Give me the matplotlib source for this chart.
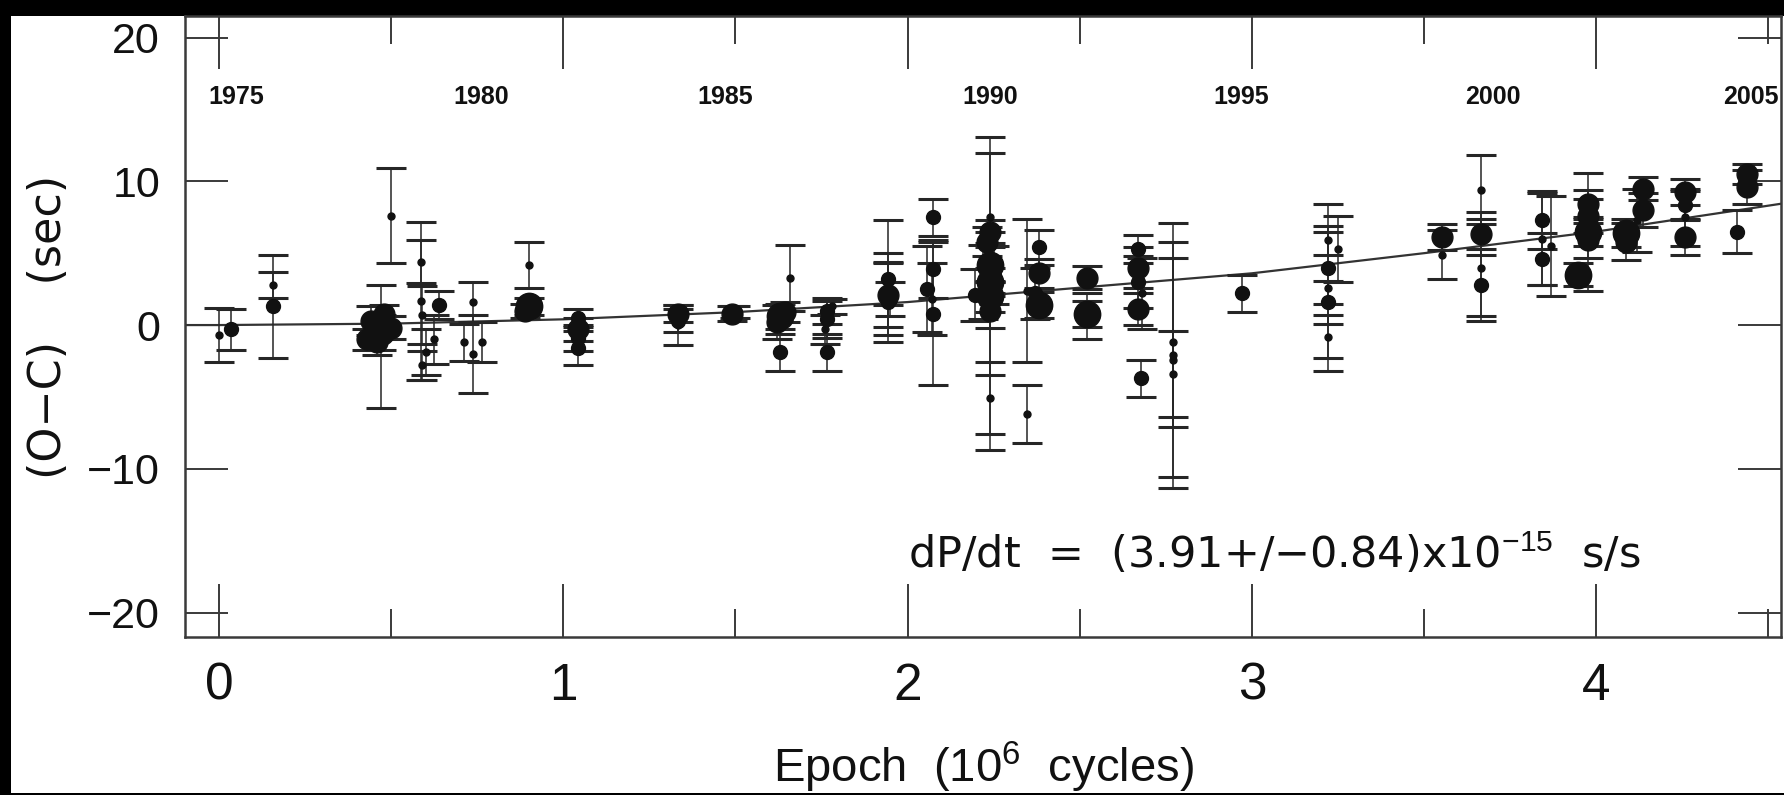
import matplotlib
matplotlib.use("Agg")
import matplotlib.pyplot as plt
from matplotlib.patches import Rectangle
from matplotlib.ticker import MultipleLocator

plt.rcParams.update({
    "font.family": ["Liberation Sans", "DejaVu Sans"],
    "mathtext.fontset": "custom",
    "mathtext.rm": "Liberation Sans",
    "mathtext.it": "Liberation Sans:italic",
    "mathtext.bf": "Liberation Sans:bold",
    "mathtext.sf": "Liberation Sans",
})

INK, AXC = "#111111", "#3a3a3a"

# O-C timings: epoch (10^6 cycles), O-C (s), error (s), dot size class
epoch = [0.00, 0.035, 0.156, 0.156,
         0.44, 0.47, 0.46, 0.50, 0.43, 0.48, 0.47, 0.499,
         0.587, 0.587, 0.59, 0.59, 0.60, 0.64, 0.625, 0.737, 0.71, 0.765, 0.737,
         0.90, 0.90, 0.89,
         1.043, 1.043, 1.043, 1.043,
         1.333, 1.333, 1.333,
         1.49, 1.50,
         1.63, 1.62, 1.645, 1.63, 1.658,
         1.765, 1.765, 1.76, 1.765, 1.78,
         1.942, 1.942, 1.942, 1.942, 1.95,
         2.055, 2.075, 2.075, 2.075, 2.07,
         2.24, 2.24, 2.23, 2.24, 2.24, 2.24, 2.24, 2.25, 2.24, 2.24, 2.24, 2.196, 2.22,
         2.346, 2.383, 2.383, 2.383, 2.37, 2.346,
         2.52, 2.52, 2.52,
         2.67, 2.67, 2.67, 2.67, 2.68, 2.678,
         2.77, 2.77, 2.77, 2.77,
         2.972,
         3.222, 3.222, 3.222, 3.222, 3.222, 3.25,
         3.551, 3.551,
         3.665, 3.665, 3.665, 3.665,
         3.842, 3.842, 3.842, 3.87,
         3.948, 3.977, 3.977, 3.977, 3.977, 3.977,
         4.088, 4.088, 4.136, 4.136, 4.12,
         4.258, 4.258, 4.258, 4.258,
         4.437, 4.437, 4.408]
oc = [-0.7, -0.3, 1.3, 2.8,
      0.3, -0.5, -1.2, -0.2, -1.0, 0.8, -1.5, 7.6,
      1.7, 4.4, 0.7, -2.8, -1.9, 1.4, -1.0, 1.6, -1.2, -1.2, -2.0,
      4.2, 1.3, 1.0,
      0.5, -0.3, -0.9, -1.6,
      0.8, 0.3, 0.0,
      0.8, 0.9,
      0.6, 0.2, 0.9, -1.9, 3.3,
      1.0, 0.4, -0.3, -1.9, 1.3,
      2.1, 3.2, 1.6, 3.3, 1.8,
      2.5, 7.5, 3.9, 0.8, 1.8,
      2.2, 6.5, 5.8, 4.2, 3.0, 2.0, 1.0, 3.5, -5.1, 7.5, 1.5, 2.1, 3.0,
      2.4, 5.4, 3.6, 1.4, 2.2, -6.2,
      3.3, 0.8, 0.6,
      5.3, 4.0, 3.0, 1.1, 2.2, -3.7,
      -2.1, -2.4, -1.2, -3.4,
      2.2,
      2.6, 5.9, 4.0, 1.6, -0.8, 5.3,
      6.1, 4.9,
      6.35, 9.4, 2.8, 4.0,
      7.3, 6.0, 4.6, 5.5,
      3.5, 8.4, 7.6, 6.5, 5.9, 6.5,
      6.4, 5.8, 9.5, 8.0, 7.3,
      9.25, 8.35, 6.1, 7.5,
      10.5, 9.6, 6.5]
err = [1.9, 1.4, 3.6, 0.9,
       1.0, 1.2, 0.9, 0.8, 0.7, 0.6, 4.3, 3.3,
       5.5, 1.5, 2.0, 1.0, 1.6, 1.0, 1.7, 1.4, 1.3, 1.4, 2.7,
       1.6, 0.6, 0.5,
       0.6, 0.8, 0.9, 1.2,
       0.6, 0.8, 1.4,
       0.5, 0.4,
       0.9, 1.2, 0.7, 1.3, 2.3,
       0.9, 1.3, 1.0, 1.3, 0.5,
       2.2, 1.8, 2.8, 4.0, 1.2,
       3.0, 1.3, 2.0, 5.0, 2.5,
       10.9, 0.8, 1.0, 1.2, 1.0, 1.1, 1.2, 2.0, 2.5, 4.5, 5.0, 1.8, 2.6,
       5.0, 1.2, 1.0, 0.9, 1.8, 2.0,
       0.8, 0.9, 1.6,
       1.0, 1.4, 1.8, 1.1, 2.5, 1.3,
       9.2, 8.2, 5.9, 3.0,
       1.3,
       5.8, 1.0, 2.5, 1.5, 1.5, 2.3,
       0.9, 1.7,
       1.5, 2.4, 2.5, 3.4,
       2.0, 3.2, 1.8, 3.5,
       0.8, 1.0, 1.2, 1.0, 1.2, 4.1,
       1.0, 1.3, 0.8, 1.2, 2.2,
       0.9, 1.0, 1.2, 2.0,
       0.7, 1.2, 1.5]
size = ["s", "m", "m", "s",
        "L", "XL", "L", "L", "L", "L", "s", "s",
        "s", "s", "s", "s", "s", "m", "s", "s", "s", "s", "s",
        "s", "XL", "L",
        "m", "L", "m", "m",
        "L", "m", "s",
        "L", "m",
        "XL", "L", "L", "m", "s",
        "m", "m", "s", "m", "s",
        "L", "m", "m", "s", "m",
        "m", "m", "m", "m", "s",
        "s", "L", "L", "XL", "XL", "XL", "L", "m", "s", "s", "s", "m", "s",
        "s", "m", "L", "XL", "m", "s",
        "L", "XL", "m",
        "m", "L", "m", "L", "s", "m",
        "s", "s", "s", "s",
        "m",
        "s", "s", "m", "m", "s", "s",
        "L", "s",
        "L", "s", "m", "s",
        "m", "s", "m", "s",
        "XL", "L", "L", "XL", "L", "s",
        "XL", "L", "L", "L", "s",
        "L", "m", "L", "s",
        "L", "L", "m"]

# fitted quadratic ephemeris
fit_x = [-0.10, 0.0, 0.5, 1.0, 1.5, 2.0, 2.5, 3.0, 3.5, 4.0, 4.54]
fit_y = [0.0, 0.0, 0.1, 0.4, 0.9, 1.6, 2.6, 3.6, 5.0, 6.5, 8.45]

# calendar years along the top
years = ["1975", "1980", "1985", "1990", "1995", "2000", "2005"]
year_x = [0.05, 0.76, 1.47, 2.24, 2.97, 3.70, 4.45]

MS = {"s": 5, "m": 10, "L": 15, "XL": 19}

fig = plt.figure(figsize=(17.84, 7.95), dpi=100, facecolor="black")
fig.add_artist(Rectangle((11 / 1784, 2 / 795), 1 - 11 / 1784, 1 - 18 / 795,
                         transform=fig.transFigure, facecolor="white",
                         edgecolor="none", zorder=0))
ax = fig.add_axes([185 / 1784, 1 - 637 / 795, (1781 - 185) / 1784, (637 - 16) / 795])
ax.set_facecolor("white")

ax.plot(fit_x, fit_y, color="#333333", lw=1.6, zorder=2)

for cls, ms in MS.items():
    idx = [i for i, s in enumerate(size) if s == cls]
    ax.errorbar([epoch[i] for i in idx], [oc[i] for i in idx], yerr=[err[i] for i in idx],
                fmt="o", ms=ms, color=INK, mec=INK, ecolor="#262626", elinewidth=1.1,
                capsize=10.5, capthick=2.2, zorder=3)

for yr, xx in zip(years, year_x):
    ax.text(xx, 15.9, yr, ha="center", va="center", fontsize=18, fontweight="bold",
            color=INK)

ax.text(2.0, -16.9, r"dP/dt  =  (3.91+/−0.84)x10$^{−15}$  s/s", fontsize=31,
        family="DejaVu Sans", ha="left", va="baseline", color=INK)

ax.set_xlim(-0.099, 4.537)
ax.set_ylim(-21.7, 21.5)
ax.xaxis.set_major_locator(MultipleLocator(1))
ax.xaxis.set_minor_locator(MultipleLocator(0.5))
ax.set_yticks([-20, -10, 0, 10, 20])
ax.tick_params(axis="x", which="major", direction="in", top=True, length=38, width=1.4,
               color=AXC, labelsize=37, pad=18, labelcolor=INK)
ax.tick_params(axis="x", which="minor", direction="in", top=True, length=20, width=1.4,
               color=AXC)
ax.tick_params(axis="y", which="major", direction="in", right=True, length=31, width=1.4,
               color=AXC, labelsize=31, pad=18, labelcolor=INK)
for s in ax.spines.values():
    s.set_color(AXC)
    s.set_linewidth(1.8)

ax.set_xlabel(r"Epoch  (10$^6$  cycles)", fontsize=34, color=INK, labelpad=21)
ax.set_ylabel("(O−C)    (sec)", fontsize=32, family="DejaVu Sans", color=INK, labelpad=12)

fig.savefig("out.png", dpi=100, facecolor="black")
